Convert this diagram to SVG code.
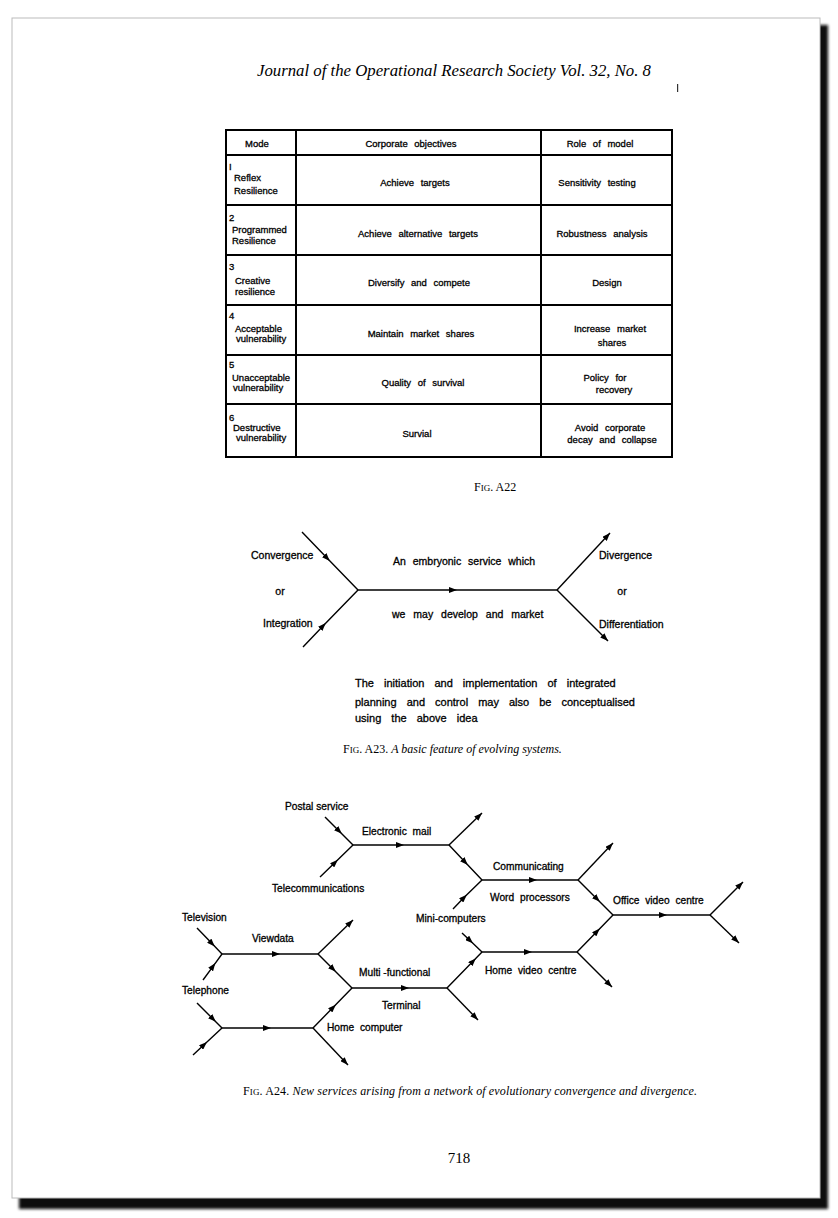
<svg xmlns="http://www.w3.org/2000/svg" width="838" height="1218" viewBox="0 0 838 1218">
<defs>
<marker id="mid" viewBox="0 0 8 6" refX="4" refY="3" markerWidth="8" markerHeight="6" markerUnits="userSpaceOnUse" orient="auto"><path d="M0,0 L8,3 L0,6 z" fill="#000"/></marker>
<marker id="end" viewBox="0 0 8 6" refX="8" refY="3" markerWidth="8" markerHeight="6" markerUnits="userSpaceOnUse" orient="auto"><path d="M0,0 L8,3 L0,6 z" fill="#000"/></marker>
<filter id="blur" x="-5%" y="-5%" width="110%" height="110%"><feGaussianBlur stdDeviation="1.5"/></filter>
</defs>
<style>
.t{font-family:"Liberation Sans",Arial,sans-serif;font-size:9.5px;fill:#000;stroke:#000;stroke-width:0.3}
.c{text-anchor:middle;word-spacing:4px}
.l{font-family:"Liberation Sans",Arial,sans-serif;font-size:10.5px;fill:#000;stroke:#000;stroke-width:0.3}
.n{font-family:"Liberation Sans",Arial,sans-serif;font-size:11px;word-spacing:7px;fill:#000;stroke:#000;stroke-width:0.3}
.k{font-family:"Liberation Sans",Arial,sans-serif;font-size:10.2px;fill:#000;stroke:#000;stroke-width:0.3}
.ws{word-spacing:3px}
.s{font-family:"Liberation Serif","Times New Roman",serif;fill:#000}
.i{font-style:italic}
.g line{stroke:#000;stroke-width:2}
.cn path{fill:none;stroke:#000;stroke-width:1.4}
.m{marker-mid:url(#mid)}
.e{marker-end:url(#end)}
</style>
<rect width="838" height="1218" fill="#fff"/>
<rect x="19" y="25" width="809" height="1184" fill="#111" filter="url(#blur)"/>
<rect x="12" y="18" width="808" height="1180" fill="#fff" stroke="#bbb" stroke-width="1"/>

<text class="s i" x="257" y="76" font-size="16" textLength="394" lengthAdjust="spacingAndGlyphs">Journal of the Operational Research Society Vol. 32, No. 8</text>
<rect x="677" y="84" width="1.2" height="8" fill="#333"/>

<!-- Table A22 -->
<g id="table" class="g">
<rect x="226" y="130" width="446" height="327" fill="none" stroke="#000" stroke-width="2"/>
<line x1="296" y1="130" x2="296" y2="457"/>
<line x1="541" y1="130" x2="541" y2="457"/>
<line x1="226" y1="155" x2="672" y2="155"/>
<line x1="226" y1="205" x2="672" y2="205"/>
<line x1="226" y1="255" x2="672" y2="255"/>
<line x1="226" y1="305" x2="672" y2="305"/>
<line x1="226" y1="355" x2="672" y2="355"/>
<line x1="226" y1="404" x2="672" y2="404"/>
</g>
<g id="table-text">
<text class="t c" x="257" y="147">Mode</text>
<text class="t c" x="411" y="147">Corporate objectives</text>
<text class="t c" x="600" y="147">Role of model</text>

<text class="t" x="229" y="170">I</text>
<text class="t" x="234" y="181">Reflex</text>
<text class="t" x="234" y="194">Resilience</text>
<text class="t c" x="415" y="186">Achieve targets</text>
<text class="t c" x="597" y="186">Sensitivity testing</text>

<text class="t" x="229" y="221">2</text>
<text class="t" x="232" y="233">Programmed</text>
<text class="t" x="232" y="244">Resilience</text>
<text class="t c" x="418" y="237">Achieve alternative targets</text>
<text class="t c" x="602" y="237">Robustness analysis</text>

<text class="t" x="229" y="270">3</text>
<text class="t" x="235" y="284">Creative</text>
<text class="t" x="235" y="295">resilience</text>
<text class="t c" x="419" y="286">Diversify and compete</text>
<text class="t c" x="607" y="286">Design</text>

<text class="t" x="229" y="319">4</text>
<text class="t" x="235" y="332">Acceptable</text>
<text class="t" x="236" y="342">vulnerability</text>
<text class="t c" x="421" y="337">Maintain market shares</text>
<text class="t c" x="610" y="332">Increase market</text>
<text class="t c" x="612" y="346">shares</text>

<text class="t" x="229" y="368">5</text>
<text class="t" x="232" y="381">Unacceptable</text>
<text class="t" x="233" y="391">vulnerability</text>
<text class="t c" x="423" y="386">Quality of survival</text>
<text class="t c" x="605" y="381">Policy for</text>
<text class="t c" x="614" y="393">recovery</text>

<text class="t" x="229" y="421">6</text>
<text class="t" x="233" y="431">Destructive</text>
<text class="t" x="236" y="441">vulnerability</text>
<text class="t c" x="417" y="437">Survial</text>
<text class="t c" x="610" y="431">Avoid corporate</text>
<text class="t c" x="612" y="443">decay and collapse</text>
</g>
<text class="s" x="474" y="491" font-size="12">F<tspan font-size="9">IG</tspan>. A22</text>

<!-- Fig A23 -->
<g id="a23-connectors" class="cn">
<path class="m" d="M302,532 L327,558 L358,590"/>
<path class="m" d="M303,647 L323,626 L358,590"/>
<path class="m" d="M358,590 L453,590 L557,590"/>
<path class="e" d="M557,590 L610,533"/>
<path class="e" d="M557,590 L608,641"/>
</g>
<g id="a23-labels">
<text class="l" x="251" y="559">Convergence</text>
<text class="l" x="280" y="595" text-anchor="middle">or</text>
<text class="l" x="263" y="627">Integration</text>
<text class="l" x="393" y="565" word-spacing="4">An embryonic service which</text>
<text class="l" x="392" y="618" word-spacing="5">we may develop and market</text>
<text class="l" x="599" y="559">Divergence</text>
<text class="l" x="622" y="595" text-anchor="middle">or</text>
<text class="l" x="599" y="628">Differentiation</text>
</g>
<g id="a23-note">
<text class="n" x="355" y="687">The initiation and implementation of integrated</text>
<text class="n" x="355" y="706">planning and control may also be conceptualised</text>
<text class="n" x="355" y="722">using the above idea</text>
</g>
<text class="s" x="343" y="753" font-size="12">F<tspan font-size="9">IG</tspan>. A23. <tspan class="i">A basic feature of evolving systems.</tspan></text>

<!-- Fig A24 -->
<g id="a24-connectors" class="cn">
<path class="m" d="M325,817 L339,831 L353,845"/>
<path class="m" d="M320,877 L335,862.5 L353,845"/>
<path class="m" d="M353,845 L400,845 L449,845"/>
<path class="e" d="M449,845 L482,813"/>
<path class="m" d="M449,845 L465,862 L482,880"/>
<path class="m" d="M453,909 L464,897.6 L482,880"/>
<path class="m" d="M482,880 L533,880 L578,880"/>
<path class="e" d="M578,880 L613,843"/>
<path class="m" d="M578,880 L597,899 L613,915"/>
<path class="m" d="M613,915 L663,915 L710,915"/>
<path class="e" d="M710,915 L743,882"/>
<path class="e" d="M710,915 L739,943"/>
<path class="m" d="M462,933 L470,940.6 L482,952"/>
<path class="m" d="M482,952 L528,952 L577,952"/>
<path class="m" d="M577,952 L597,931.4 L613,915"/>
<path class="e" d="M577,952 L612,987"/>
<path class="m" d="M447,988 L473,961.3 L482,952"/>
<path class="e" d="M447,988 L478,1020"/>
<path class="m" d="M197,928 L212,943.6 L222,954"/>
<path class="m" d="M203,980 L213,966.3 L222,954"/>
<path class="m" d="M222,954 L276,954 L318,954"/>
<path class="e" d="M318,954 L353,920"/>
<path class="m" d="M318,954 L333,969 L352,988"/>
<path class="m" d="M352,988 L405,988 L447,988"/>
<path class="m" d="M197,1003 L213,1019 L222,1028"/>
<path class="m" d="M193,1055 L204,1044.8 L222,1028"/>
<path class="m" d="M222,1028 L267,1028 L313,1028"/>
<path class="m" d="M313,1028 L333,1007.5 L352,988"/>
<path class="e" d="M313,1028 L348,1065"/>
</g>
<g id="a24-labels">
<text class="k" x="285" y="810">Postal service</text>
<text class="k ws" x="362" y="835">Electronic mail</text>
<text class="k" x="272" y="892">Telecommunications</text>
<text class="k" x="493" y="870">Communicating</text>
<text class="k ws" x="490" y="901">Word processors</text>
<text class="k" x="416" y="922">Mini-computers</text>
<text class="k ws" x="613" y="904">Office video centre</text>
<text class="k" x="182" y="921">Television</text>
<text class="k" x="252" y="942">Viewdata</text>
<text class="k ws" x="485" y="974">Home video centre</text>
<text class="k" x="359" y="976">Multi -functional</text>
<text class="k" x="382" y="1009">Terminal</text>
<text class="k" x="182" y="994">Telephone</text>
<text class="k ws" x="327" y="1031">Home computer</text>
</g>
<text class="s" x="243" y="1095" font-size="12" textLength="454" lengthAdjust="spacing">F<tspan font-size="9">IG</tspan>. A24. <tspan class="i">New services arising from a network of evolutionary convergence and divergence.</tspan></text>

<text class="s" x="459" y="1163" font-size="15" text-anchor="middle">718</text>
</svg>
